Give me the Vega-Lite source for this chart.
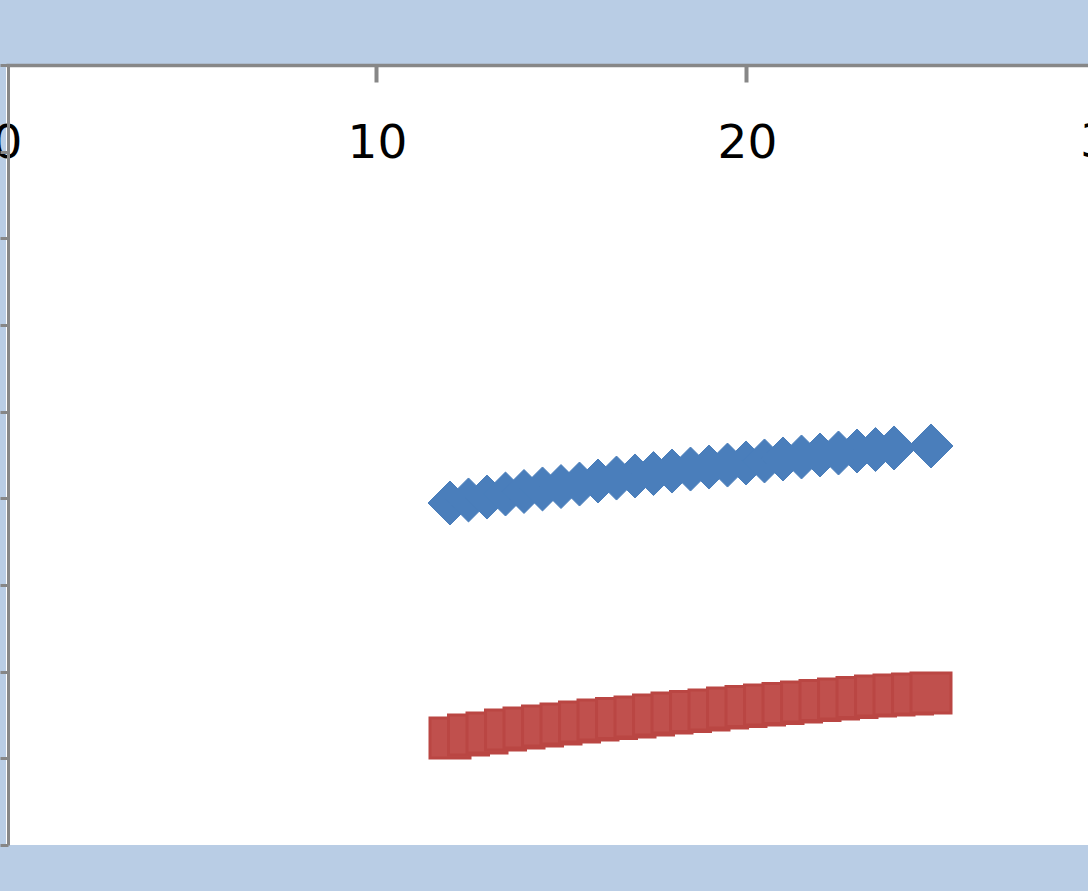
{
  "$schema": "https://vega.github.io/schema/vega-lite/v6.json",
  "autosize": {"type": "none"},
  "padding": {"left": 6, "top": 65, "right": 0, "bottom": 46},
  "width": 1082,
  "height": 780,
  "background": "#B9CDE5",
  "config": {"view": {"fill": "white", "stroke": null}},
  "datasets": {
    "blue": [
      {"x": 12, "y": 3.946}, {"x": 12.5, "y": 3.981}, {"x": 13, "y": 4.015}, {"x": 13.5, "y": 4.05},
      {"x": 14, "y": 4.079}, {"x": 14.5, "y": 4.108}, {"x": 15, "y": 4.136}, {"x": 15.5, "y": 4.165},
      {"x": 16, "y": 4.2}, {"x": 16.5, "y": 4.234}, {"x": 17, "y": 4.258}, {"x": 17.5, "y": 4.286},
      {"x": 18, "y": 4.315}, {"x": 18.5, "y": 4.338}, {"x": 19, "y": 4.361}, {"x": 19.5, "y": 4.384},
      {"x": 20, "y": 4.408}, {"x": 20.5, "y": 4.431}, {"x": 21, "y": 4.454}, {"x": 21.5, "y": 4.477},
      {"x": 22, "y": 4.5}, {"x": 22.5, "y": 4.523}, {"x": 23, "y": 4.546}, {"x": 23.5, "y": 4.563},
      {"x": 24, "y": 4.581}, {"x": 25, "y": 4.604}
    ],
    "red": [
      {"x": 12, "y": 1.235}, {"x": 12.5, "y": 1.269}, {"x": 13, "y": 1.292}, {"x": 13.5, "y": 1.327},
      {"x": 14, "y": 1.35}, {"x": 14.5, "y": 1.373}, {"x": 15, "y": 1.396}, {"x": 15.5, "y": 1.419},
      {"x": 16, "y": 1.442}, {"x": 16.5, "y": 1.46}, {"x": 17, "y": 1.477}, {"x": 17.5, "y": 1.5},
      {"x": 18, "y": 1.523}, {"x": 18.5, "y": 1.54}, {"x": 19, "y": 1.558}, {"x": 19.5, "y": 1.581},
      {"x": 20, "y": 1.598}, {"x": 20.5, "y": 1.615}, {"x": 21, "y": 1.633}, {"x": 21.5, "y": 1.65},
      {"x": 22, "y": 1.667}, {"x": 22.5, "y": 1.685}, {"x": 23, "y": 1.702}, {"x": 23.5, "y": 1.719},
      {"x": 24, "y": 1.731}, {"x": 24.5, "y": 1.742}, {"x": 25, "y": 1.754}
    ],
    "edgeLabel": [
      {"x": 30, "y": 9, "label": "30"}
    ]
  },
  "encoding": {
    "x": {
      "field": "x",
      "type": "quantitative",
      "scale": {"domain": [0, 29.243], "nice": false, "zero": false},
      "axis": {
        "orient": "bottom",
        "offset": -780,
        "values": [0, 10, 20],
        "title": null,
        "grid": false,
        "domainColor": "#878787",
        "domainWidth": 3.5,
        "tickColor": "#878787",
        "tickWidth": 4,
        "tickSize": 17,
        "tickOpacity": {"condition": {"test": "datum.value === 0", "value": 0}, "value": 1},
        "labelOffset": 1,
        "labelFont": "DejaVu Sans",
        "labelFontSize": 47,
        "labelColor": "#000000",
        "labelPadding": 38,
        "labelFlush": false,
        "labelOverlap": false,
        "labelBound": false
      }
    },
    "y": {
      "field": "y",
      "type": "quantitative",
      "scale": {"domain": [0, 9], "nice": false, "zero": false},
      "axis": {
        "values": [0, 1, 2, 3, 4, 5, 6, 7, 8, 9],
        "labels": false,
        "title": null,
        "grid": false,
        "offset": -2,
        "domainColor": "#878787",
        "domainWidth": 3,
        "tickColor": "#878787",
        "tickWidth": 3,
        "tickSize": 8
      }
    }
  },
  "layer": [
    {
      "data": {"name": "blue"},
      "mark": {"type": "point", "shape": "diamond", "filled": true, "size": 1936, "color": "#4A7EBB", "stroke": "#4A7EBB", "strokeWidth": 1, "opacity": 1}
    },
    {
      "data": {"name": "red"},
      "mark": {"type": "point", "shape": "square", "filled": true, "size": 1600, "color": "#C0504D", "stroke": "#BA4643", "strokeWidth": 3, "opacity": 1}
    },
    {
      "data": {"name": "edgeLabel"},
      "mark": {"type": "text", "font": "DejaVu Sans", "fontSize": 47, "color": "#000000", "align": "center", "baseline": "alphabetic", "dx": -6, "dy": 92},
      "encoding": {"text": {"field": "label", "type": "nominal"}}
    }
  ]
}
